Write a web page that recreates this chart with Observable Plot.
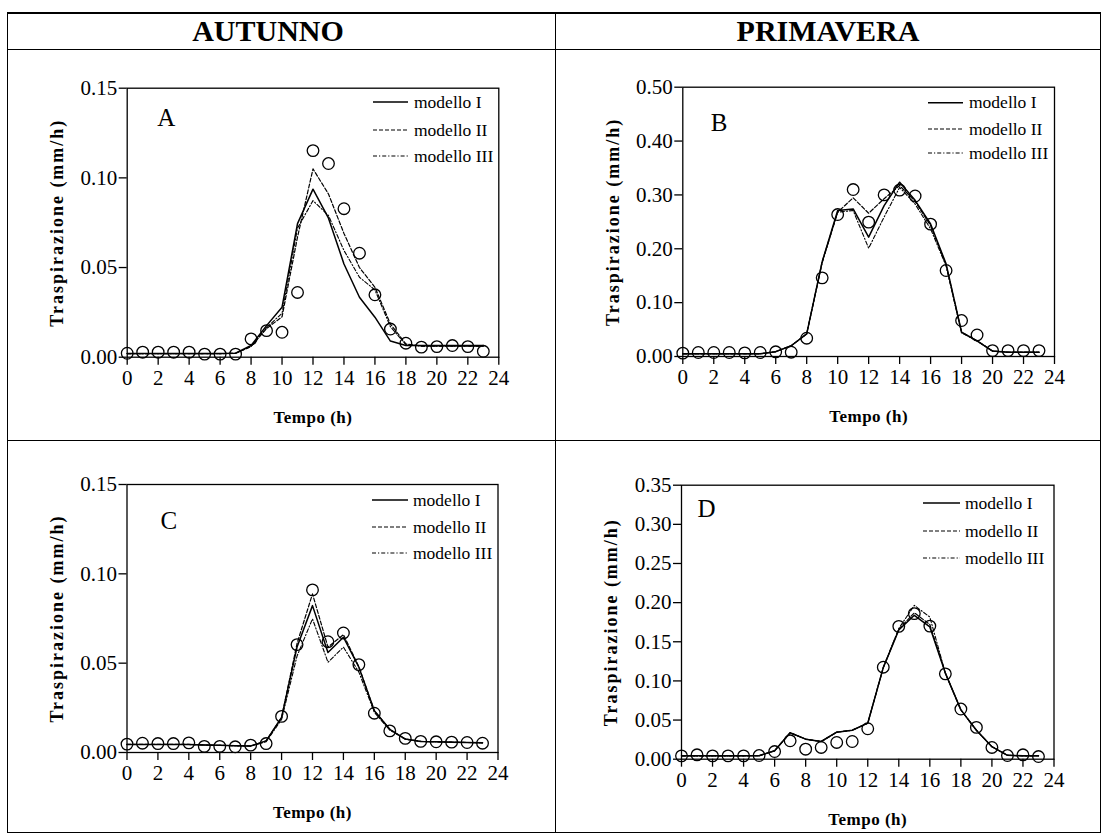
<!DOCTYPE html>
<html>
<head>
<meta charset="utf-8">
<script src="https://cdn.jsdelivr.net/npm/d3@7"></script>
<script src="https://cdn.jsdelivr.net/npm/@observablehq/plot@0.6"></script>
<style>
  html, body { margin: 0; padding: 0; background: #fff; }
  #page { position: relative; width: 1106px; height: 838px; font-family: "Liberation Serif", serif; color: #000; }
  #page svg, #page svg text { font-family: "Liberation Serif", serif !important; }
  .rule { position: absolute; background: #000; }
  .season { position: absolute; font-weight: bold; font-size: 30px; line-height: 1; transform: translate(-50%, -50%); white-space: nowrap; }
  .cell { position: absolute; }
  .legend { position: absolute; left: 0; top: 0; overflow: visible; pointer-events: none; }
</style>
</head>
<body>
<div id="page"></div>
<script>
// Hours of the day (x)
const hours = [0,1,2,3,4,5,6,7,8,9,10,11,12,13,14,15,16,17,18,19,20,21,22,23];
const xTicks = [0,2,4,6,8,10,12,14,16,18,20,22,24];

// Panel A — autumn
const A_obs = [0.0022,0.0028,0.0028,0.0028,0.0028,0.0017,0.0017,0.0017,0.0102,0.0148,0.0139,0.0361,0.1152,0.1080,0.0828,0.0580,0.0348,0.0157,0.0078,0.0056,0.0059,0.0065,0.0059,0.0033];
const A_m1  = [0.0020,0.0020,0.0020,0.0020,0.0020,0.0020,0.0020,0.0022,0.0065,0.0176,0.0279,0.0745,0.0937,0.0775,0.0520,0.0334,0.0223,0.0090,0.0065,0.0065,0.0065,0.0065,0.0065,0.0065];
const A_m2  = [0.0020,0.0020,0.0020,0.0020,0.0020,0.0020,0.0020,0.0022,0.0060,0.0160,0.0225,0.0670,0.1050,0.0910,0.0690,0.0500,0.0390,0.0185,0.0074,0.0062,0.0062,0.0062,0.0062,0.0062];
const A_m3  = [0.0020,0.0020,0.0020,0.0020,0.0020,0.0020,0.0020,0.0022,0.0060,0.0165,0.0245,0.0720,0.0873,0.0790,0.0595,0.0446,0.0375,0.0170,0.0070,0.0062,0.0062,0.0062,0.0062,0.0062];
const A_yTicks = [0, 0.05, 0.10, 0.15];

// Panel B — spring
const B_obs = [0.0062,0.0074,0.0074,0.0074,0.0068,0.0074,0.0087,0.0080,0.0340,0.1460,0.2636,0.3100,0.2494,0.3000,0.3090,0.2980,0.2457,0.1597,0.0668,0.0400,0.0110,0.0110,0.0110,0.0110];
const B_m1  = [0.0050,0.0050,0.0050,0.0050,0.0050,0.0050,0.0090,0.0200,0.0420,0.1760,0.2710,0.2740,0.2215,0.2800,0.3236,0.2900,0.2460,0.1720,0.0450,0.0290,0.0100,0.0080,0.0080,0.0080];
const B_m2  = [0.0050,0.0050,0.0050,0.0050,0.0050,0.0050,0.0090,0.0200,0.0420,0.1760,0.2680,0.2946,0.2660,0.2930,0.3175,0.2880,0.2430,0.1700,0.0450,0.0290,0.0100,0.0080,0.0080,0.0080];
const B_m3  = [0.0050,0.0050,0.0050,0.0050,0.0050,0.0050,0.0090,0.0200,0.0420,0.1740,0.2680,0.2710,0.2010,0.2590,0.3140,0.2830,0.2370,0.1680,0.0440,0.0290,0.0100,0.0080,0.0080,0.0080];
const B_yTicks = [0, 0.10, 0.20, 0.30, 0.40, 0.50];

// Panel C — autumn
const C_obs = [0.0047,0.0052,0.0050,0.0050,0.0054,0.0034,0.0034,0.0032,0.0041,0.0050,0.0202,0.0604,0.0910,0.0620,0.0669,0.0492,0.0220,0.0121,0.0079,0.0062,0.0060,0.0058,0.0056,0.0052];
const C_m1  = [0.0045,0.0045,0.0045,0.0045,0.0045,0.0042,0.0040,0.0038,0.0036,0.0065,0.0196,0.0590,0.0822,0.0560,0.0645,0.0477,0.0234,0.0130,0.0075,0.0062,0.0060,0.0058,0.0056,0.0054];
const C_m2  = [0.0045,0.0045,0.0045,0.0045,0.0045,0.0042,0.0040,0.0038,0.0036,0.0065,0.0196,0.0610,0.0888,0.0590,0.0660,0.0480,0.0234,0.0130,0.0075,0.0062,0.0060,0.0058,0.0056,0.0054];
const C_m3  = [0.0045,0.0045,0.0045,0.0045,0.0045,0.0042,0.0040,0.0038,0.0036,0.0060,0.0185,0.0540,0.0748,0.0505,0.0590,0.0450,0.0225,0.0125,0.0075,0.0062,0.0060,0.0058,0.0056,0.0054];
const C_yTicks = [0, 0.05, 0.10, 0.15];

// Panel D — spring
const D_obs = [0.0043,0.0056,0.0043,0.0043,0.0043,0.0047,0.0098,0.0235,0.0128,0.0150,0.0214,0.0226,0.0389,0.1175,0.1697,0.1860,0.1700,0.1090,0.0641,0.0406,0.0150,0.0047,0.0056,0.0034];
const D_m1  = [0.0043,0.0043,0.0043,0.0043,0.0043,0.0045,0.0107,0.0338,0.0256,0.0226,0.0345,0.0370,0.0460,0.1170,0.1650,0.1838,0.1690,0.1100,0.0630,0.0370,0.0160,0.0050,0.0043,0.0043];
const D_m2  = [0.0043,0.0043,0.0043,0.0043,0.0043,0.0045,0.0107,0.0338,0.0256,0.0226,0.0345,0.0370,0.0460,0.1170,0.1660,0.1870,0.1720,0.1100,0.0630,0.0370,0.0160,0.0050,0.0043,0.0043];
const D_m3  = [0.0043,0.0043,0.0043,0.0043,0.0043,0.0045,0.0107,0.0338,0.0256,0.0226,0.0345,0.0370,0.0460,0.1170,0.1670,0.1965,0.1816,0.1100,0.0630,0.0370,0.0160,0.0050,0.0043,0.0043];
const D_yTicks = [0, 0.05, 0.10, 0.15, 0.20, 0.25, 0.30, 0.35];

const models = ["modello I", "modello II", "modello III"];
const seasons = ["AUTUNNO", "PRIMAVERA"];
const xLabel = "Tempo (h)";
const yLabel = "Traspirazione (mm/h)";

// line styles per model
const modelStyle = [
  {dash: null, width: 1.5},
  {dash: "4,2", width: 1.2},
  {dash: "4,2,1.2,2", width: 1.1}
];

const panels = [
  {id: "A", obs: A_obs, mods: [A_m1, A_m2, A_m3], yTicks: A_yTicks,
   box: {left: 7, top: 49, w: 548, h: 391}, margin: {t: 38.7, r: 56.7, b: 83.3, l: 119.7},
   letter: {dx: 30, dy: 30}, legend: {x0: 373, x1: 408, tx: 414, ys: [102, 130, 156]}},
  {id: "B", obs: B_obs, mods: [B_m1, B_m2, B_m3], yTicks: B_yTicks,
   box: {left: 555, top: 49, w: 545, h: 391}, margin: {t: 37.7, r: 46, b: 84, l: 127.3},
   letter: {dx: 28, dy: 36}, legend: {x0: 928, x1: 963, tx: 969, ys: [102.7, 129, 153]}},
  {id: "C", obs: C_obs, mods: [C_m1, C_m2, C_m3], yTicks: C_yTicks,
   box: {left: 7, top: 440, w: 548, h: 392}, margin: {t: 44, r: 57.5, b: 80, l: 119.5},
   letter: {dx: 33.5, dy: 36}, legend: {x0: 372, x1: 408, tx: 413, ys: [500, 527, 553]}},
  {id: "D", obs: D_obs, mods: [D_m1, D_m2, D_m3], yTicks: D_yTicks,
   box: {left: 555, top: 440, w: 545, h: 392}, margin: {t: 44.7, r: 46.5, b: 73.3, l: 126},
   letter: {dx: 16, dy: 23.5}, legend: {x0: 923, x1: 960, tx: 965, ys: [503, 531, 558]}}
];

const page = document.getElementById("page");

// table rules
function rule(x, y, w, h) {
  const d = document.createElement("div");
  d.className = "rule";
  Object.assign(d.style, {left: x + "px", top: y + "px", width: w + "px", height: h + "px"});
  page.appendChild(d);
}
rule(7, 12, 1094, 1.5);     // top
rule(7, 48.5, 1094, 1.5);   // below header
rule(7, 439.5, 1094, 1.5);  // middle
rule(7, 831.5, 1094, 1.5);  // bottom
rule(6.5, 12, 1.5, 821);    // left
rule(554.5, 12, 1.5, 821);  // centre
rule(1099.5, 12, 1.5, 821); // right

// season headers
[[268, seasons[0]], [828, seasons[1]]].forEach(([cx, t]) => {
  const d = document.createElement("div");
  d.className = "season";
  d.textContent = t;
  d.style.left = cx + "px";
  d.style.top = "31px";
  page.appendChild(d);
});

const fmt = d3.format(".2f");

panels.forEach(p => {
  const rows = hours.map((h, i) => ({h, obs: p.obs[i], m0: p.mods[0][i], m1: p.mods[1][i], m2: p.mods[2][i]}));
  const yMax = p.yTicks[p.yTicks.length - 1];
  const lineMarks = p.mods.map((_, k) => Plot.line(rows, {
    x: "h", y: "m" + k, stroke: "black", strokeWidth: modelStyle[k].width,
    strokeDasharray: modelStyle[k].dash ?? undefined
  }));
  const chart = Plot.plot({
    width: p.box.w,
    height: p.box.h,
    marginTop: p.margin.t,
    marginRight: p.margin.r,
    marginBottom: p.margin.b,
    marginLeft: p.margin.l,
    x: {domain: [0, 24]},
    y: {domain: [0, yMax]},
    style: {fontFamily: "'Liberation Serif', serif", fontSize: "21px", background: "transparent", color: "black", overflow: "visible"},
    marks: [
      Plot.axisX({ticks: xTicks, tickSize: 8, tickPadding: 5, tickFormat: d => String(d), label: null, strokeWidth: 1.3}),
      Plot.axisY({ticks: p.yTicks, tickSize: 8, tickPadding: 2, tickFormat: fmt, label: null, strokeWidth: 1.3}),
      Plot.frame({stroke: "black", strokeWidth: 1.3}),
      ...lineMarks,
      Plot.dot(rows, {x: "h", y: "obs", r: 5.8, stroke: "black", strokeWidth: 1.3, fill: "none"}),
      Plot.text([p.id], {frameAnchor: "top-left", dx: p.letter.dx, dy: p.letter.dy, textAnchor: "start", lineAnchor: "middle", fontSize: 25}),
      Plot.text([xLabel], {frameAnchor: "bottom", dy: 60, textAnchor: "middle", lineAnchor: "middle", fontWeight: "bold", fontSize: 17}),
      Plot.text([yLabel], {frameAnchor: "left", dx: -70, rotate: -90, textAnchor: "middle", lineAnchor: "middle", fontWeight: "bold", fontSize: 18})
    ]
  });
  d3.select(chart).selectAll("text").filter(function() { return this.textContent === yLabel; })
    .style("letter-spacing", "2px");
  d3.select(chart).selectAll("text").filter(function() { return this.textContent === xLabel; })
    .style("letter-spacing", "0.5px");
  const holder = document.createElement("div");
  holder.className = "cell";
  Object.assign(holder.style, {left: p.box.left + "px", top: p.box.top + "px", width: p.box.w + "px", height: p.box.h + "px"});
  holder.appendChild(chart);
  page.appendChild(holder);
});

// legends (page coordinates)
const legendSvg = d3.select(page).append("svg").attr("class", "legend").attr("width", 1106).attr("height", 838);
panels.forEach(p => {
  const L = p.legend;
  models.forEach((name, k) => {
    const y = L.ys[k];
    legendSvg.append("line")
      .attr("x1", L.x0).attr("x2", L.x1).attr("y1", y).attr("y2", y)
      .attr("stroke", "black").attr("stroke-width", modelStyle[k].width)
      .attr("stroke-dasharray", modelStyle[k].dash);
    legendSvg.append("text")
      .attr("x", L.tx).attr("y", y).attr("dy", "0.32em")
      .attr("font-size", 17.5)
      .text(name);
  });
});
</script>
</body>
</html>
